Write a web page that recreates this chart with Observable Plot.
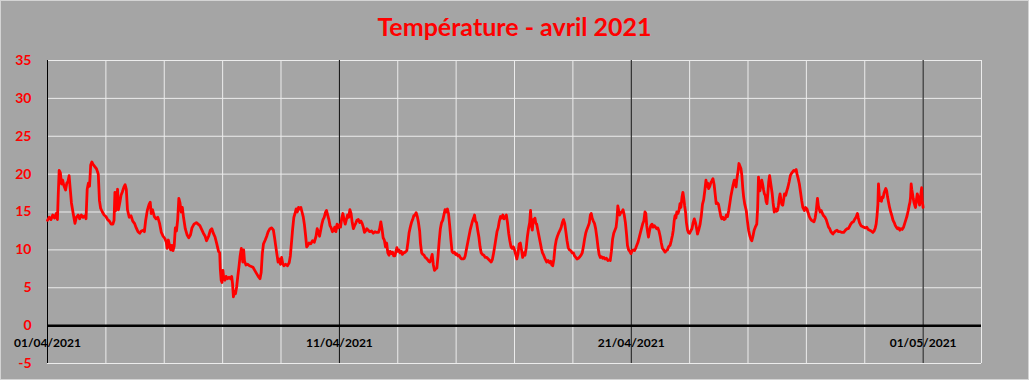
<!DOCTYPE html>
<html><head><meta charset="utf-8">
<script src="https://cdn.jsdelivr.net/npm/d3@7"></script>
<script src="https://cdn.jsdelivr.net/npm/@observablehq/plot@0.6"></script>
<style>
html,body{margin:0;padding:0;background:#a5a5a5;}
#chart{position:relative;width:1029px;height:380px;background:#a5a5a5;overflow:hidden;}
#title{position:absolute;left:0;top:8px;width:1029px;text-align:center;font:bold 25px Lato, sans-serif;color:#ff0000;line-height:36px;}
#plot{position:absolute;left:0;top:46px;}
#frame{position:absolute;left:0;top:0;width:1029px;height:380px;box-sizing:border-box;border:1px solid #d4d4d4;pointer-events:none;}
</style></head><body>
<div id="chart"><div id="title">Température - avril 2021</div><div id="plot"></div><div id="frame"></div></div>
<script>
const startDate = "2021-04-01T00:00:00Z";
const domainDays = [0, 32];
// [days since 01/04/2021 00:00, temperature °C]
const readings = [
[0.00,13.9],[0.06,14.3],[0.12,14.0],[0.18,14.6],[0.24,14.2],[0.30,14.8],[0.34,14.0],[0.37,17.5],[0.40,20.5],[0.44,20.2],
[0.48,18.7],[0.52,19.2],[0.56,18.5],[0.62,17.9],[0.66,18.8],[0.70,19.0],[0.74,19.8],[0.78,18.0],[0.82,16.2],[0.88,14.8],
[0.94,13.5],[0.99,14.3],[1.05,14.6],[1.10,14.1],[1.16,14.6],[1.22,14.3],[1.28,14.5],[1.32,14.1],[1.36,18.0],[1.40,18.8],
[1.44,18.4],[1.48,21.2],[1.52,21.6],[1.56,21.3],[1.62,21.0],[1.68,20.7],[1.74,20.0],[1.78,16.5],[1.82,15.5],[1.88,15.0],
[1.94,14.6],[2.00,14.4],[2.06,14.0],[2.12,13.8],[2.18,13.4],[2.24,13.4],[2.28,13.9],[2.31,17.6],[2.34,15.2],[2.37,16.0],
[2.40,18.0],[2.43,15.3],[2.48,16.3],[2.52,17.2],[2.56,17.6],[2.62,18.3],[2.66,18.6],[2.70,18.0],[2.74,15.3],[2.80,14.3],
[2.86,14.5],[2.92,13.8],[2.98,13.5],[3.04,12.9],[3.10,12.4],[3.16,12.2],[3.22,12.5],[3.28,12.6],[3.32,12.4],[3.36,13.8],
[3.42,15.2],[3.48,16.0],[3.52,16.3],[3.55,14.8],[3.60,15.3],[3.66,14.4],[3.72,14.1],[3.78,14.3],[3.84,13.5],[3.90,12.3],
[3.96,11.8],[4.02,11.5],[4.07,11.0],[4.10,10.2],[4.14,11.3],[4.18,10.6],[4.22,10.0],[4.26,10.6],[4.30,9.9],[4.34,10.5],
[4.38,12.9],[4.42,12.5],[4.46,14.0],[4.50,16.8],[4.54,16.2],[4.58,15.0],[4.62,15.6],[4.66,14.3],[4.72,12.8],[4.78,12.0],
[4.84,11.6],[4.90,12.0],[4.95,12.9],[5.02,13.4],[5.10,13.6],[5.16,13.4],[5.22,13.2],[5.28,12.7],[5.34,12.2],
[5.40,11.8],[5.45,11.2],[5.52,11.8],[5.58,12.6],[5.63,12.8],[5.68,12.2],[5.74,11.7],[5.80,10.8],[5.86,9.8],[5.90,9.6],
[5.92,7.5],[5.95,6.0],[5.98,5.7],[6.01,7.3],[6.04,6.2],[6.08,6.0],[6.12,6.5],[6.17,6.2],[6.22,6.4],[6.27,6.2],
[6.31,6.5],[6.34,5.5],[6.37,3.8],[6.40,4.5],[6.44,4.2],[6.48,5.1],[6.52,6.5],[6.56,7.8],[6.60,9.2],[6.64,10.2],
[6.66,9.8],[6.69,8.4],[6.72,10.0],[6.75,8.5],[6.80,8.0],[6.86,8.1],[6.92,7.9],[6.98,7.8],[7.04,7.7],[7.10,7.3],
[7.16,6.9],[7.22,6.5],[7.28,6.2],[7.32,7.0],[7.36,9.5],[7.40,10.8],[7.46,11.3],[7.51,11.8],[7.56,12.4],[7.62,12.8],
[7.68,12.9],[7.74,12.6],[7.78,11.6],[7.82,10.5],[7.86,9.4],[7.90,8.4],[7.94,8.8],[7.98,8.1],[8.02,9.0],[8.06,8.2],
[8.10,7.9],[8.16,8.1],[8.22,7.9],[8.28,8.3],[8.32,9.2],[8.36,11.0],[8.40,12.8],[8.44,14.3],[8.48,14.8],[8.52,15.4],
[8.56,15.0],[8.60,15.6],[8.64,15.4],[8.68,15.6],[8.72,15.0],[8.76,14.4],[8.80,13.4],[8.84,12.0],[8.88,10.4],[8.92,10.6],
[8.96,10.9],[9.02,10.8],[9.08,11.2],[9.14,11.0],[9.20,11.8],[9.24,12.8],[9.28,12.4],[9.32,11.8],[9.36,12.6],[9.40,13.4],
[9.44,14.0],[9.48,14.3],[9.52,14.9],[9.56,15.2],[9.60,14.6],[9.64,14.0],[9.68,13.2],[9.72,12.9],[9.76,12.4],[9.80,12.5],
[9.84,13.0],[9.88,12.4],[9.92,13.4],[9.96,12.9],[10.00,13.3],[10.04,13.0],[10.08,14.2],[10.12,14.8],[10.16,14.0],[10.20,13.4],
[10.24,14.0],[10.28,14.6],[10.32,14.3],[10.36,15.3],[10.40,14.8],[10.44,13.6],[10.48,12.8],[10.52,13.2],[10.56,13.5],
[10.60,13.9],[10.65,14.0],[10.70,13.6],[10.74,13.8],[10.78,13.5],[10.82,13.0],[10.86,12.3],[10.90,12.5],[10.94,12.8],[10.99,12.6],
[11.04,12.4],[11.10,12.5],[11.16,12.2],[11.22,12.4],[11.28,12.3],[11.34,12.3],[11.38,12.8],[11.42,13.7],[11.46,12.8],[11.50,11.6],
[11.54,11.3],[11.58,10.4],[11.62,10.9],[11.66,9.6],[11.70,9.3],[11.74,9.8],[11.78,9.5],[11.82,9.7],[11.86,9.2],[11.90,9.2],
[11.94,9.8],[11.97,10.3],[12.00,9.8],[12.04,10.0],[12.08,9.6],[12.12,9.8],[12.16,9.4],[12.20,9.6],[12.26,9.7],[12.31,9.9],
[12.35,11.0],[12.39,12.3],[12.43,13.0],[12.47,13.6],[12.51,14.0],[12.55,14.5],[12.59,14.6],[12.63,14.9],[12.67,14.4],[12.71,13.6],
[12.75,12.5],[12.78,10.8],[12.82,9.6],[12.86,9.4],[12.90,9.3],[12.94,9.0],[12.98,8.9],[13.02,8.7],[13.06,8.5],[13.10,8.4],
[13.14,8.8],[13.18,9.4],[13.22,8.0],[13.26,7.3],[13.30,7.5],[13.34,7.6],[13.38,9.2],[13.42,11.2],[13.46,12.8],[13.50,13.6],
[13.54,13.9],[13.58,14.6],[13.62,15.3],[13.66,15.0],[13.70,15.4],[13.74,14.8],[13.78,13.2],[13.82,11.4],[13.86,9.8],[13.90,9.6],
[13.94,9.7],[13.98,9.4],[14.02,9.5],[14.06,9.2],[14.10,9.3],[14.14,9.0],[14.19,8.8],[14.24,8.8],[14.28,8.9],[14.31,9.2],
[14.36,10.2],[14.40,11.0],[14.44,11.8],[14.48,12.6],[14.52,13.2],[14.56,13.8],[14.60,14.2],[14.63,14.6],[14.66,13.8],[14.70,13.6],
[14.74,12.6],[14.78,11.7],[14.82,10.4],[14.86,9.6],[14.90,9.4],[14.95,9.3],[15.00,9.0],[15.05,9.0],[15.10,8.8],[15.15,8.6],
[15.20,8.4],[15.24,8.7],[15.28,9.5],[15.32,10.4],[15.36,11.4],[15.40,12.4],[15.44,12.9],[15.48,13.8],[15.52,14.4],[15.56,14.2],
[15.60,14.6],[15.64,14.1],[15.68,14.3],[15.72,14.6],[15.76,13.6],[15.80,12.2],[15.84,11.2],[15.88,10.4],[15.92,10.2],[15.96,10.4],
[16.00,10.0],[16.04,9.4],[16.08,8.8],[16.12,9.5],[16.16,10.8],[16.20,10.9],[16.24,10.0],[16.28,9.0],[16.32,9.6],[16.36,9.3],
[16.40,10.2],[16.44,11.7],[16.48,12.8],[16.52,13.6],[16.55,15.2],[16.58,13.2],[16.61,12.6],[16.64,14.0],[16.67,13.7],[16.70,14.2],
[16.73,13.5],[16.76,13.4],[16.80,12.6],[16.84,11.8],[16.88,11.0],[16.92,10.2],[16.96,9.6],[17.00,9.3],[17.05,8.8],[17.10,8.4],
[17.15,8.6],[17.20,8.3],[17.24,8.5],[17.28,8.0],[17.31,7.9],[17.35,8.8],[17.39,10.4],[17.43,11.3],[17.47,11.8],[17.51,12.2],
[17.56,12.6],[17.60,13.0],[17.64,13.6],[17.68,14.0],[17.72,13.5],[17.76,12.4],[17.80,11.2],[17.84,10.3],[17.88,10.0],[17.93,9.9],
[17.98,9.6],[18.02,9.6],[18.06,9.2],[18.10,9.0],[18.14,8.8],[18.19,8.9],[18.24,9.1],[18.28,9.3],[18.32,9.6],[18.36,10.4],
[18.40,11.4],[18.44,12.2],[18.48,12.7],[18.52,13.1],[18.56,13.5],[18.60,14.6],[18.63,14.8],[18.66,14.2],[18.70,13.8],[18.74,13.5],
[18.78,12.8],[18.82,11.7],[18.86,10.4],[18.90,9.4],[18.94,9.0],[18.98,9.1],[19.02,8.9],[19.06,9.0],[19.10,8.8],[19.15,8.9],
[19.20,8.6],[19.25,8.7],[19.28,8.6],[19.32,9.8],[19.36,11.4],[19.40,12.2],[19.44,12.6],[19.48,13.0],[19.51,14.0],[19.54,15.8],
[19.57,15.2],[19.60,14.6],[19.64,14.9],[19.68,15.0],[19.72,15.3],[19.76,14.6],[19.80,13.6],[19.84,12.0],[19.87,10.6],[19.91,10.0],
[19.95,9.8],[19.99,9.5],[20.03,9.9],[20.07,10.0],[20.11,9.9],[20.15,10.2],[20.19,10.6],[20.23,11.0],[20.27,11.6],[20.31,12.2],
[20.35,12.8],[20.39,13.4],[20.43,13.8],[20.47,15.0],[20.50,14.8],[20.53,13.2],[20.56,12.4],[20.59,11.7],[20.63,12.6],[20.67,13.2],
[20.71,13.4],[20.75,13.0],[20.79,13.2],[20.83,13.0],[20.87,12.8],[20.91,12.9],[20.95,12.5],[20.99,11.8],[21.03,10.9],[21.07,10.2],
[21.11,10.0],[21.16,9.7],[21.20,9.9],[21.24,10.0],[21.28,10.4],[21.33,10.6],[21.37,11.2],[21.41,11.9],[21.44,12.6],[21.47,13.8],
[21.50,14.5],[21.53,14.2],[21.56,15.0],[21.60,14.8],[21.64,15.3],[21.67,16.1],[21.70,15.6],[21.74,17.0],[21.77,17.6],[21.80,16.8],
[21.83,15.8],[21.86,15.0],[21.89,13.6],[21.93,12.6],[21.96,12.3],[22.00,12.2],[22.04,12.5],[22.08,12.8],[22.12,13.6],[22.16,14.1],
[22.20,13.6],[22.24,12.8],[22.27,12.1],[22.31,12.6],[22.36,13.4],[22.40,14.5],[22.44,16.0],[22.48,16.6],[22.52,17.8],[22.56,19.2],
[22.59,18.4],[22.62,18.8],[22.65,18.1],[22.69,18.4],[22.73,18.9],[22.76,19.1],[22.80,19.4],[22.84,18.6],[22.88,17.2],[22.91,16.1],
[22.95,16.2],[22.99,16.0],[23.03,15.2],[23.07,14.4],[23.10,14.1],[23.14,14.3],[23.18,14.0],[23.22,14.1],[23.26,14.6],[23.30,14.4],
[23.34,15.2],[23.38,16.2],[23.41,17.0],[23.45,17.8],[23.49,18.6],[23.53,19.2],[23.56,18.8],[23.59,18.3],[23.62,19.4],[23.66,20.4],
[23.69,21.4],[23.72,21.1],[23.76,20.7],[23.79,19.8],[23.82,18.2],[23.85,17.0],[23.89,16.0],[23.94,15.2],[23.98,13.8],[24.02,12.6],
[24.06,11.9],[24.10,11.4],[24.13,11.2],[24.17,11.8],[24.21,12.6],[24.25,13.0],[24.30,13.4],[24.33,15.5],[24.36,19.6],[24.38,18.6],
[24.41,17.8],[24.44,18.6],[24.47,19.2],[24.50,18.7],[24.53,18.0],[24.56,17.4],[24.59,17.2],[24.62,16.4],[24.65,16.1],[24.68,17.5],
[24.71,19.0],[24.74,19.8],[24.77,19.0],[24.80,18.2],[24.83,17.4],[24.86,16.2],[24.90,15.0],[24.94,15.4],[24.98,15.1],[25.01,15.2],
[25.04,15.8],[25.07,16.8],[25.10,17.4],[25.13,16.5],[25.16,16.0],[25.19,15.9],[25.22,16.6],[25.25,17.4],[25.29,17.2],[25.33,17.8],
[25.37,18.3],[25.41,19.0],[25.45,19.8],[25.49,20.1],[25.53,20.3],[25.57,20.5],[25.61,20.4],[25.65,20.6],[25.68,20.0],[25.72,19.4],
[25.76,18.7],[25.80,17.6],[25.84,16.5],[25.88,15.6],[25.93,15.2],[25.97,15.6],[26.02,15.4],[26.06,14.9],[26.10,14.4],[26.14,14.1],
[26.18,13.9],[26.22,13.8],[26.26,13.7],[26.30,14.2],[26.34,15.2],[26.38,16.8],[26.41,15.8],[26.44,15.4],[26.47,15.0],[26.51,15.2],
[26.55,14.8],[26.59,14.5],[26.64,14.3],[26.68,14.0],[26.72,13.5],[26.76,13.0],[26.80,12.8],[26.84,12.4],[26.88,12.2],[26.91,12.1],
[26.95,12.3],[27.00,12.5],[27.05,12.6],[27.10,12.4],[27.16,12.4],[27.22,12.3],[27.28,12.3],[27.34,12.6],[27.40,12.8],[27.44,12.8],
[27.48,13.1],[27.52,13.4],[27.56,13.6],[27.61,13.7],[27.65,14.0],[27.70,14.3],[27.73,14.6],[27.75,14.8],[27.78,14.2],[27.82,13.6],
[27.87,13.2],[27.92,13.1],[27.97,13.0],[28.02,12.9],[28.07,13.0],[28.12,12.7],[28.17,12.6],[28.22,12.5],[28.28,12.3],[28.32,12.5],
[28.36,12.9],[28.39,13.4],[28.42,14.5],[28.45,16.0],[28.47,18.7],[28.49,17.6],[28.51,16.5],[28.54,16.6],[28.57,16.4],[28.60,17.0],
[28.63,16.9],[28.66,17.5],[28.69,17.8],[28.72,18.1],[28.75,17.8],[28.78,17.0],[28.82,16.2],[28.85,15.6],[28.89,15.0],[28.93,14.5],
[28.97,13.9],[29.01,13.6],[29.05,13.2],[29.08,13.0],[29.12,12.8],[29.16,12.9],[29.20,12.6],[29.24,12.8],[29.28,12.7],[29.33,13.0],
[29.37,13.5],[29.41,14.0],[29.45,14.5],[29.49,15.2],[29.52,15.8],[29.55,16.3],[29.57,17.0],[29.59,18.7],[29.61,18.0],[29.64,17.3],
[29.66,16.8],[29.69,16.2],[29.72,15.8],[29.74,15.6],[29.77,16.6],[29.80,17.4],[29.83,17.0],[29.86,16.2],[29.88,15.9],[29.91,16.8],
[29.93,17.6],[29.95,18.2],[29.97,16.5],[30.00,15.6]
];
const yTicks = [-5, 0, 5, 10, 15, 20, 25, 30, 35];
const gridDays = [0, 2, 4, 6, 8, 10, 12, 14, 16, 18, 20, 22, 24, 26, 28, 30, 32];
const majorDays = [0, 10, 20, 30];
const dateLabels = ["01/04/2021", "11/04/2021", "21/04/2021", "01/05/2021"];
const titleText = "Température - avril 2021";

const t0 = Date.parse(startDate);
const toDate = d => new Date(t0 + d * 86400000);
const data = readings.map(([d, v]) => ({date: toDate(d), temp: v}));
const labels = majorDays.map((d, i) => ({date: toDate(d), text: dateLabels[i]}));
document.getElementById("title").textContent = titleText;

const chart = Plot.plot({
  width: 1029, height: 334,
  marginTop: 14, marginBottom: 17, marginLeft: 47, marginRight: 48,
  style: {background: "transparent", fontFamily: "Lato, sans-serif", overflow: "visible"},
  x: {type: "utc", domain: domainDays.map(toDate), axis: null},
  y: {domain: [-5, 35], axis: null},
  marks: [
    Plot.ruleY(yTicks.filter(v => v !== 0), {stroke: "#ececec", strokeWidth: 1}),
    Plot.ruleX(gridDays.map(toDate), {stroke: "#ececec", strokeWidth: 1}),
    Plot.ruleX(majorDays.map(toDate), {stroke: "#000000", strokeWidth: 1}),
    Plot.line(data, {x: "date", y: "temp", stroke: "#ff0000", strokeWidth: 2.8, strokeLinejoin: "round"}),
    Plot.ruleY([0], {stroke: "#000000", strokeWidth: 2.5}),
    Plot.text(yTicks, {y: d => d, text: d => String(d), frameAnchor: "left", dx: -16, textAnchor: "end",
      fill: "#ff0000", fontWeight: "bold", fontSize: 14}),
    Plot.text(labels, {x: "date", y: () => 0, text: "text", dy: 18, fill: "#000000", fontWeight: "bold", fontSize: 12})
  ]
});
document.getElementById("plot").appendChild(chart);
</script>
</body></html>
